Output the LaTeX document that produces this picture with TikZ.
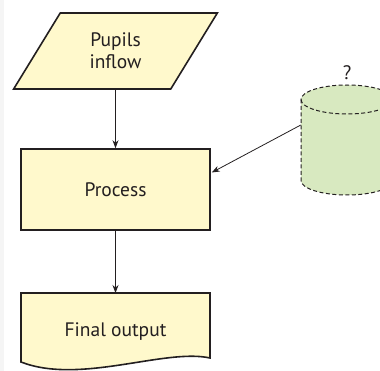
\documentclass[tikz,border=0pt]{standalone}
\usepackage{fontspec}
\setmainfont{PT Sans}
\usepackage{xcolor}
\usepackage{tikz}
\usetikzlibrary{shapes.geometric, arrows.meta, positioning, calc}

\definecolor{boxyellow}{RGB}{255,249,204}
\definecolor{storegreen}{RGB}{216,233,192}
\definecolor{inkgray}{RGB}{35,31,32}

\begin{document}
\begin{tikzpicture}[
    x=1pt, y=-1pt,
    every node/.style={font=\fontsize{19.5}{22}\selectfont, text=inkgray},
    box/.style={draw=inkgray, rectangle, align=center, minimum width=189pt, minimum height=81pt, fill=boxyellow, line width=1.6pt},
    inbox/.style={draw=inkgray, trapezium, trapezium left angle=60, trapezium right angle=120, trapezium stretches=true, align=center, minimum width=204pt, minimum height=76pt, fill=boxyellow, line width=1.6pt},
    storeline/.style={draw=inkgray, dash pattern=on 4pt off 2.5pt, line width=1pt},
    arrow/.style={-{Stealth[length=8pt, width=6pt]}, inkgray, line width=0.8pt}
]

    % Frame
    \useasboundingbox (0,0) rectangle (380,371);
    \clip (0,0) rectangle (380,371);
    \fill[gray!8] (0,0) rectangle (4,371);

    % Flow boxes
    \node[inbox] (inflow) at (115.5,51) {Pupils\\inflow};
    \node[box] (proc) at (115.5,189.5) {Process};

    % Final output (document shape)
    \filldraw[fill=boxyellow, draw=inkgray, line width=1.6pt] (21,293) -- (210,293) -- (210,358)
        .. controls (165,348) and (80,385) .. (21,362) -- cycle;
    \node (fout) at (115.5,332) {Final output};

    % Data store (cylinder)
    \node[minimum width=92pt, minimum height=110pt, inner sep=0pt] (store) at (347,140) {};
    \filldraw[storeline, fill=storegreen] (301,99.5) -- (301,180.5)
        arc[start angle=180, end angle=360, x radius=46pt, y radius=14.5pt] -- (393,99.5)
        arc[start angle=0, end angle=180, x radius=46pt, y radius=14.5pt] -- cycle;
    \draw[storeline] (301,99.5) arc[start angle=180, end angle=360, x radius=46pt, y radius=14.5pt];
    \node (qmark) [above=2pt of store] {?};

    % Connectors
    \draw[arrow] (inflow) -- (proc);
    \draw[arrow] (proc) -- (fout.north |- 0,293);
    \draw[arrow] ([yshift=15pt]store.west) -- ([yshift=17pt, xshift=1pt]proc.east);
\end{tikzpicture}
\end{document}
